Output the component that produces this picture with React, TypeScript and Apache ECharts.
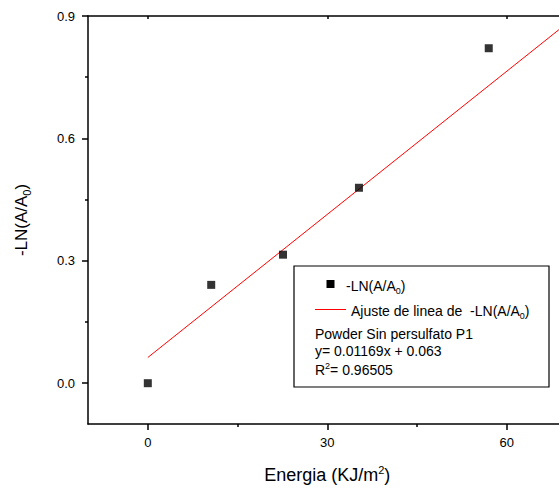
import React, { useEffect, useRef } from "react";
import * as echarts from "echarts";

const energy = [0, 10.6, 22.6, 35.3, 57.0];
const lnValues = [0, 0.241, 0.315, 0.479, 0.821];
const fitX = [0, 70];
const fitY = [0.063, 0.8813];
const xMajorTicks = [0, 30, 60];
const xMinorTicks = [15, 45];
const yMajorTicks = [0, 0.3, 0.6, 0.9];
const yMinorTicks = [0.15, 0.45, 0.75];
const fitTitle = "Powder Sin persulfato P1";
const fitEquation = "y= 0.01169x + 0.063";
const fitR2 = "0.96505";

const FONT = "'Liberation Sans', Arial, sans-serif";

export default function App() {
  const ref = useRef<HTMLDivElement>(null);
  useEffect(() => {
    document.body.style.margin = "0";
    document.body.style.overflow = "hidden";
    const chart = echarts.init(ref.current!, null, { renderer: "svg" });
    const rich = {
      a: { fontFamily: FONT, fontSize: 14, color: "#000" },
      s: { fontFamily: FONT, fontSize: 9, color: "#000", padding: [9, 0, 0, 0] },
      p: { fontFamily: FONT, fontSize: 9, color: "#000", padding: [0, 0, 8, 0] },
    };
    const richTitleY = {
      a: { fontFamily: FONT, fontSize: 17, color: "#000" },
      s: { fontFamily: FONT, fontSize: 11, color: "#000", padding: [10, 0, 0, 0] },
    };
    const richTitleX = {
      a: { fontFamily: FONT, fontSize: 18, color: "#000" },
      p: { fontFamily: FONT, fontSize: 11, color: "#000", padding: [0, 0, 10, 0] },
    };
    const gridRect = {
      left: 88,
      top: 16,
      width: 478.5,
      height: 408,
      containLabel: false,
      outerBoundsMode: "none",
    };
    const axisLineStyle = { color: "#000", width: 1.5 };
    chart.setOption({
      animation: false,
      backgroundColor: "#fff",
      grid: [{ ...gridRect }, { ...gridRect }],
      xAxis: [
        {
          type: "value",
          gridIndex: 0,
          position: "bottom",
          min: -10,
          max: 70,
          name: "{a|Energia (KJ/m}{p|2}{a|)}",
          nameLocation: "middle",
          nameGap: 40,
          nameTextStyle: { rich: richTitleX },
          axisLine: { show: true, onZero: false, lineStyle: axisLineStyle },
          axisTick: { show: true, customValues: xMajorTicks, length: 6, lineStyle: axisLineStyle },
          axisLabel: {
            show: true,
            customValues: xMajorTicks,
            margin: 12,
            fontFamily: FONT,
            fontSize: 13,
            color: "#000",
          },
          splitLine: { show: false },
        },
        {
          type: "value",
          gridIndex: 0,
          position: "top",
          min: -10,
          max: 70,
          axisLine: { show: true, onZero: false, lineStyle: axisLineStyle },
          axisTick: { show: true, inside: true, customValues: xMajorTicks, length: 3, lineStyle: axisLineStyle },
          axisLabel: { show: false },
          splitLine: { show: false },
        },
        {
          type: "value",
          gridIndex: 1,
          position: "bottom",
          min: -10,
          max: 70,
          axisLine: { show: false, onZero: false },
          axisTick: { show: true, customValues: xMinorTicks, length: 3, lineStyle: axisLineStyle },
          axisLabel: { show: false },
          splitLine: { show: false },
        },
      ],
      yAxis: [
        {
          type: "value",
          gridIndex: 0,
          position: "left",
          min: -0.1,
          max: 0.9,
          name: "{a|-LN(A/A}{s|0}{a|)}",
          nameLocation: "middle",
          nameRotate: 90,
          nameGap: 56,
          nameTextStyle: { rich: richTitleY },
          axisLine: { show: true, onZero: false, lineStyle: axisLineStyle },
          axisTick: { show: true, customValues: yMajorTicks, length: 6, lineStyle: axisLineStyle },
          axisLabel: {
            show: true,
            customValues: yMajorTicks,
            margin: 13,
            fontFamily: FONT,
            fontSize: 13,
            color: "#000",
            formatter: (v: number) => v.toFixed(1),
          },
          splitLine: { show: false },
        },
        {
          type: "value",
          gridIndex: 1,
          position: "left",
          min: -0.1,
          max: 0.9,
          axisLine: { show: false, onZero: false },
          axisTick: { show: true, customValues: yMinorTicks, length: 3, lineStyle: axisLineStyle },
          axisLabel: { show: false },
          splitLine: { show: false },
        },
      ],
      series: [
        {
          type: "scatter",
          name: "-LN(A/A0)",
          xAxisIndex: 0,
          yAxisIndex: 0,
          symbol: "rect",
          symbolSize: 8,
          itemStyle: { color: "#000" },
          data: energy.map((x, i) => [x, lnValues[i]]),
          z: 3,
        },
        {
          type: "line",
          name: "Ajuste de linea de  -LN(A/A0)",
          xAxisIndex: 0,
          yAxisIndex: 0,
          showSymbol: false,
          symbol: "none",
          lineStyle: { color: "#ff0000", width: 1 },
          data: fitX.map((x, i) => [x, fitY[i]]),
          z: 2,
        },
      ],
      graphic: [
        {
          type: "rect",
          z: 10,
          shape: { x: 294, y: 266, width: 255, height: 121 },
          style: { fill: "#fff", stroke: "#000", lineWidth: 1.2 },
        },
        {
          type: "rect",
          z: 11,
          shape: { x: 326.5, y: 280, width: 8, height: 8 },
          style: { fill: "#000" },
        },
        {
          type: "text",
          z: 11,
          x: 346,
          y: 286,
          style: { text: "{a|-LN(A/A}{s|0}{a|)}", rich, verticalAlign: "middle", align: "left" },
        },
        {
          type: "line",
          z: 11,
          shape: { x1: 315, y1: 309.5, x2: 346, y2: 309.5 },
          style: { stroke: "#ff0000", lineWidth: 1 },
        },
        {
          type: "text",
          z: 11,
          x: 351,
          y: 311,
          style: { text: "{a|Ajuste de linea de  -LN(A/A}{s|0}{a|)}", rich, verticalAlign: "middle", align: "left" },
        },
        {
          type: "text",
          z: 11,
          x: 315,
          y: 333.5,
          style: { text: fitTitle, fontFamily: FONT, fontSize: 14, fill: "#000", verticalAlign: "middle", align: "left" },
        },
        {
          type: "text",
          z: 11,
          x: 315,
          y: 351,
          style: { text: fitEquation, fontFamily: FONT, fontSize: 14, fill: "#000", verticalAlign: "middle", align: "left" },
        },
        {
          type: "text",
          z: 11,
          x: 315,
          y: 370,
          style: { text: "{a|R}{p|2}{a|= " + fitR2 + "}", rich, verticalAlign: "middle", align: "left" },
        },
      ],
    });
    return () => chart.dispose();
  }, []);
  return <div ref={ref} style={{ width: 559, height: 490 }} />;
}
